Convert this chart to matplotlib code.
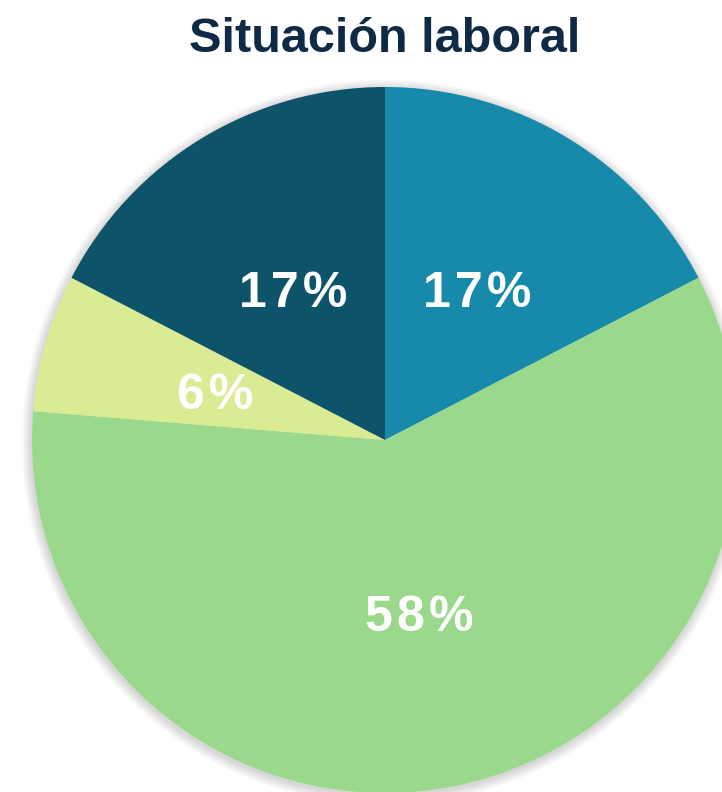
import numpy as np
import matplotlib
matplotlib.use("Agg")
import matplotlib.pyplot as plt
from matplotlib.patches import Circle

# Data
categories = ["Categoría A", "Categoría B", "Categoría C", "Categoría D"]
values = [17.4, 58.9, 6.3, 17.4]
pct_labels = ["17%", "58%", "6%", "17%"]
colors = ["#1789ab", "#9ad98c", "#d9ec94", "#0d5369"]
title = "Situación laboral"

W, H = 722, 792
fig = plt.figure(figsize=(W / 100, H / 100), dpi=100)
ax = fig.add_axes([0, 0, 1, 1])

cx, cy, R = 385, 440, 353

# soft shadow
for k in range(10, 0, -1):
    ax.add_patch(Circle((-0.002, -0.006), 1.0 + k * 0.0028, color="#000000",
                        alpha=0.015, lw=0, zorder=0))

wedges, _ = ax.pie(values, colors=colors, startangle=90, counterclock=False,
                   radius=1.0, center=(0, 0), frame=True,
                   wedgeprops=dict(linewidth=0, zorder=1))
ax.set_xlim((0 - cx) / R, (W - cx) / R)
ax.set_ylim((cy - H) / R, (cy - 0) / R)
ax.set_aspect("auto")
ax.axis("off")

half_cap = 18.0 / R
hs = "\u200a"
for w, lab in zip(wedges, pct_labels):
    th = np.deg2rad((w.theta1 + w.theta2) / 2)
    ax.text(0.5 * np.cos(th), 0.5 * np.sin(th) - half_cap, hs.join(lab),
            ha="center", va="baseline",
            color="white", fontsize=36, fontweight="bold",
            family=["Liberation Sans", "DejaVu Sans"], zorder=3)

fig.text(385 / W, 1 - 52 / H, title, ha="center", va="baseline",
         fontsize=35, fontweight="bold", color="#0f2a45",
         family=["Liberation Sans", "DejaVu Sans"])

fig.savefig("out.png", dpi=100, facecolor="white")
